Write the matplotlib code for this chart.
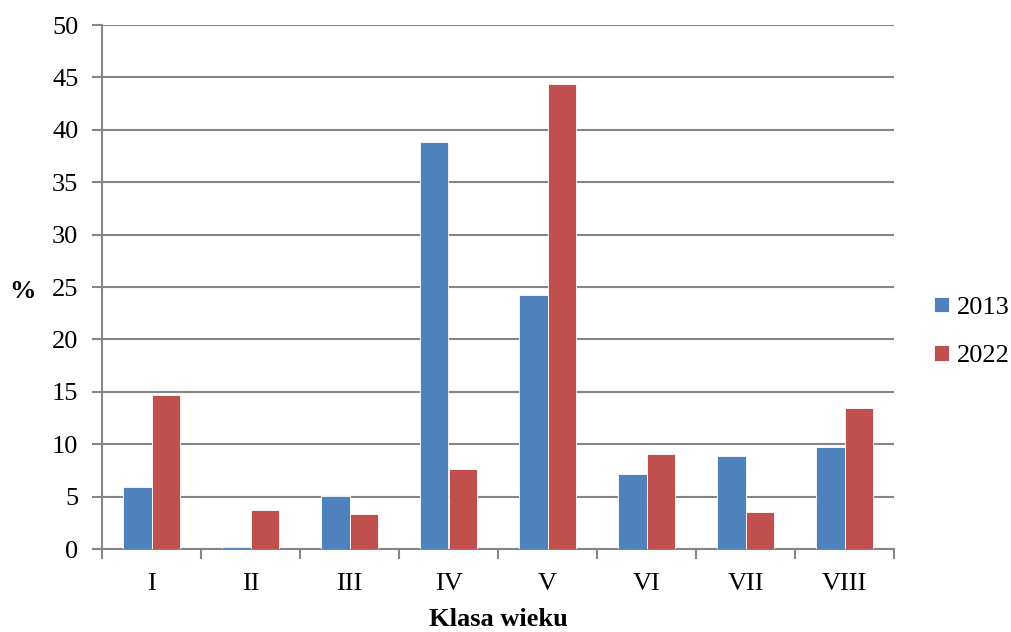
import matplotlib
matplotlib.use("Agg")
import matplotlib.pyplot as plt
import numpy as np

categories = ["I", "II", "III", "IV", "V", "VI", "VII", "VIII"]
values_2013 = [5.9, 0.2, 5.1, 38.8, 24.2, 7.2, 8.9, 9.7]
values_2022 = [14.7, 3.7, 3.3, 7.6, 44.4, 9.1, 3.5, 13.5]
series_labels = ["2013", "2022"]
yticks = [0, 5, 10, 15, 20, 25, 30, 35, 40, 45, 50]

blue = "#4F81BD"
red = "#C0504D"
gray = "#868686"
font = "Liberation Serif"
fs = 19

fig = plt.figure(figsize=(10.11, 6.32), dpi=100)
ax = fig.add_axes([102/1011, 83/632, 792/1011, 524/632])

x = np.arange(len(categories))
w = 0.2857
b1 = ax.bar(x - w/2, values_2013, w, color=blue, edgecolor="white", linewidth=0.6, label=series_labels[0], zorder=3)
b2 = ax.bar(x + w/2, values_2022, w, color=red, edgecolor="white", linewidth=0.6, label=series_labels[1], zorder=3)

ax.set_xlim(-0.5, len(categories) - 0.5)
ax.set_ylim(0, 50)
ax.set_yticks(yticks)
ax.set_yticklabels([str(t) for t in yticks], fontfamily=font, fontsize=fs)
ax.yaxis.grid(True, color=gray, linewidth=1.5, zorder=0)
ax.set_axisbelow(True)

ax.set_xticks(np.arange(len(categories) + 1) - 0.5)
ax.set_xticklabels([])
ax.set_xticks(x, minor=True)
ax.set_xticklabels(categories, minor=True, fontfamily=font, fontsize=fs)
ax.tick_params(axis="x", which="minor", length=0, pad=17)
ax.tick_params(axis="x", which="major", length=7, width=1.5, color=gray)
ax.tick_params(axis="y", length=7, width=1.5, color=gray, pad=10)

for s in ["top", "right"]:
    ax.spines[s].set_visible(False)
for s in ["left", "bottom"]:
    ax.spines[s].set_color(gray)
    ax.spines[s].set_linewidth(1.5)

fig.text(22/1011, 1 - 292/632, "%", fontfamily=font, fontsize=fs, fontweight="bold", ha="center", va="center")
fig.text(498/1011, 1 - 620/632, "Klasa wieku", fontfamily=font, fontsize=fs, fontweight="bold", ha="center", va="center")

leg = fig.legend(handles=[b1, b2], labels=series_labels, loc="center left",
                 bbox_to_anchor=(934/1011, 1 - 332/632), frameon=False, borderpad=0, borderaxespad=0,
                 prop={"family": font, "size": fs},
                 handlelength=0.55, handleheight=0.55, handletextpad=0.3, labelspacing=1.0)

fig.savefig("out.png", dpi=100)
